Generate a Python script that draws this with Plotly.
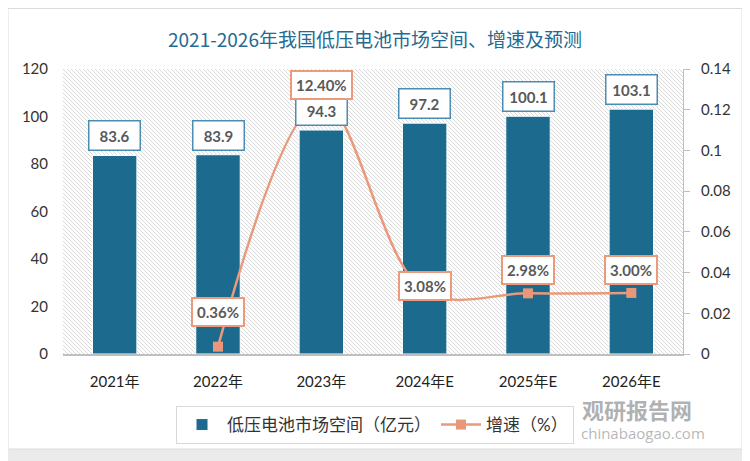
import base64
import plotly.graph_objects as go

# ---------------- data ----------------
categories = ["2021年", "2022年", "2023年", "2024年E", "2025年E", "2026年E"]
market_size = [83.6, 83.9, 94.3, 97.2, 100.1, 103.1]          # 亿元
growth_rate = [None, 0.0036, 0.124, 0.0308, 0.0298, 0.0300]    # 增速
growth_text = ["", "0.36%", "12.40%", "3.08%", "2.98%", "3.00%"]
left_ticks = [0, 20, 40, 60, 80, 100, 120]
right_ticks = [0, 0.02, 0.04, 0.06, 0.08, 0.10, 0.12, 0.14]
right_tick_text = ["0", "0.02", "0.04", "0.06", "0.08", "0.1", "0.12", "0.14"]

title_text = "2021-2026年我国低压电池市场空间、增速及预测"
bar_name = "低压电池市场空间（亿元）"
line_name = "增速（%）"

# ---------------- style ----------------
OFF = 8                      # page body margin
PW, PH = 750, 461            # page size
W, H = PW - OFF, PH - OFF    # figure size
# plot area in page pixels
PL, PR, PT, PB = 63, 683, 69, 354
L, R, T, B = PL - OFF, PR - OFF, PT - OFF, PB - OFF
BAR_COLOR = "#1c6a8e"
LINE_COLOR = "#ea9a7b"
FONT = "Lato, 'Noto Sans CJK SC', sans-serif"
label_shift = [0, 35, 17, 5, 23, 23]    # vertical offsets of growth labels (px)


def px_x(px):   # page x pixel -> paper coordinate
    return (px - PL) / (PR - PL)


def px_y(py):   # page y pixel -> paper coordinate
    return (PB - py) / (PB - PT)


# hatched plot background as an inline SVG image
pw, ph = R - L, B - T
svg = (
    f'<svg xmlns="http://www.w3.org/2000/svg" width="{pw}" height="{ph}" viewBox="0 0 {pw} {ph}">'
    '<defs><pattern id="p" width="4" height="4" patternUnits="userSpaceOnUse">'
    '<rect width="4" height="4" fill="#ffffff"/>'
    '<path d="M-1,-1 L5,5 M-1,3 L1,5 M3,-1 L5,1" stroke="#d4d4d4" stroke-width="0.9"/>'
    '</pattern></defs>'
    f'<rect width="{pw}" height="{ph}" fill="url(#p)"/></svg>'
)
svg_uri = "data:image/svg+xml;base64," + base64.b64encode(svg.encode()).decode()

fig = go.Figure()

fig.add_trace(go.Bar(
    x=categories, y=market_size, name=bar_name,
    marker=dict(color=BAR_COLOR, line=dict(color="#ffffff", width=1)),
    width=0.43, yaxis="y", hoverinfo="skip",
))

fig.add_trace(go.Scatter(
    x=categories, y=growth_rate, name=line_name, yaxis="y2",
    mode="lines+markers",
    line=dict(color=LINE_COLOR, width=2.5, shape="spline", smoothing=1.0),
    marker=dict(symbol="square", size=10, color="#e9967a"),
    connectgaps=False, hoverinfo="skip",
))

annotations = []
# bar value labels
for c, v in zip(categories, market_size):
    annotations.append(dict(
        x=c, y=v, xref="x", yref="y", text=f"<b>{v}</b>",
        showarrow=False, yanchor="bottom", yshift=4,
        font=dict(family=FONT, size=15, color="#595959"),
        bgcolor="#ffffff", bordercolor="#4a8db3", borderwidth=1.5, borderpad=5,
        width=40,
    ))
# growth labels
for c, v, t, s in zip(categories, growth_rate, growth_text, label_shift):
    if v is None:
        continue
    annotations.append(dict(
        x=c, y=v, xref="x", yref="y2", text=f"<b>{t}</b>",
        showarrow=False, yanchor="middle", yshift=s,
        font=dict(family=FONT, size=15, color="#595959"),
        bgcolor="#ffffff", bordercolor="#ec9a7c", borderwidth=2, borderpad=4,
    ))
# title
annotations.append(dict(
    x=px_x(375), y=px_y(38), xref="paper", yref="paper", showarrow=False,
    xanchor="center", yanchor="middle", text=title_text,
    font=dict(family="'Noto Sans CJK SC', sans-serif", size=19, color="#256a90"),
))
# watermark
annotations.append(dict(
    x=px_x(637), y=px_y(409), xref="paper", yref="paper", showarrow=False,
    xanchor="center", yanchor="middle", text="<b>观研报告网</b>",
    font=dict(family="'Noto Sans CJK SC', sans-serif", size=22, color="rgba(110,110,110,0.55)"),
))
annotations.append(dict(
    x=px_x(707), y=px_y(433), xref="paper", yref="paper", showarrow=False,
    xanchor="right", yanchor="middle", text="chinabaogao.com",
    font=dict(family="'Open Sans', sans-serif", size=15, color="rgba(110,110,110,0.5)"),
))

# outer card frame (gray strips around the white card, right and bottom)
GRAY = "#ebebeb"
shapes = [
    dict(type="rect", xref="paper", yref="paper", x0=px_x(742), x1=px_x(PW + 2), y0=px_y(0), y1=px_y(PH + 2),
         fillcolor=GRAY, line=dict(width=0), layer="below"),
    dict(type="rect", xref="paper", yref="paper", x0=px_x(0), x1=px_x(PW + 2), y0=px_y(449), y1=px_y(PH + 2),
         fillcolor=GRAY, line=dict(width=0), layer="below"),
    dict(type="rect", xref="paper", yref="paper", x0=px_x(8), x1=px_x(742), y0=px_y(8.5), y1=px_y(449),
         fillcolor="rgba(0,0,0,0)", line=dict(width=1, color="#dcdcdc"), layer="below"),
]

fig.update_layout(
    width=W, height=H,
    margin=dict(l=L, r=W - R, t=T, b=H - B, pad=0),
    paper_bgcolor="#ffffff", plot_bgcolor="#ffffff",
    font=dict(family=FONT, size=15, color="#333333"),
    showlegend=True,
    legend=dict(
        orientation="h", x=px_x(375), xanchor="center", y=px_y(406), yanchor="top",
        bordercolor="#d9d9d9", borderwidth=1, bgcolor="rgba(255,255,255,0)",
        font=dict(family=FONT, size=17, color="#333333"),
        itemwidth=40,
    ),
    bargap=0.57,
    xaxis=dict(
        type="category", showgrid=False, zeroline=False,
        showline=True, linecolor="#bfbfbf", linewidth=1.5,
        ticks="", tickfont=dict(family=FONT, size=15, color="#222222"),
        ticklabelstandoff=13,
    ),
    yaxis=dict(
        range=[0, 120], tickvals=left_ticks, showgrid=False, zeroline=False,
        showline=False, ticks="", tickfont=dict(family=FONT, size=15, color="#333333"),
        ticklabelstandoff=14,
    ),
    yaxis2=dict(
        range=[0, 0.14], tickvals=right_ticks, ticktext=right_tick_text,
        overlaying="y", side="right", showgrid=False, zeroline=False,
        showline=True, linecolor="#bfbfbf", linewidth=1,
        ticks="outside", ticklen=6, tickcolor="#bfbfbf",
        tickfont=dict(family=FONT, size=15, color="#333333"),
        ticklabelstandoff=8,
    ),
    images=[dict(
        source=svg_uri, xref="paper", yref="paper", x=0, y=1, sizex=1, sizey=1,
        sizing="stretch", xanchor="left", yanchor="top", layer="below",
    )],
    annotations=annotations,
    shapes=shapes,
)

fig.write_html("out.html")
